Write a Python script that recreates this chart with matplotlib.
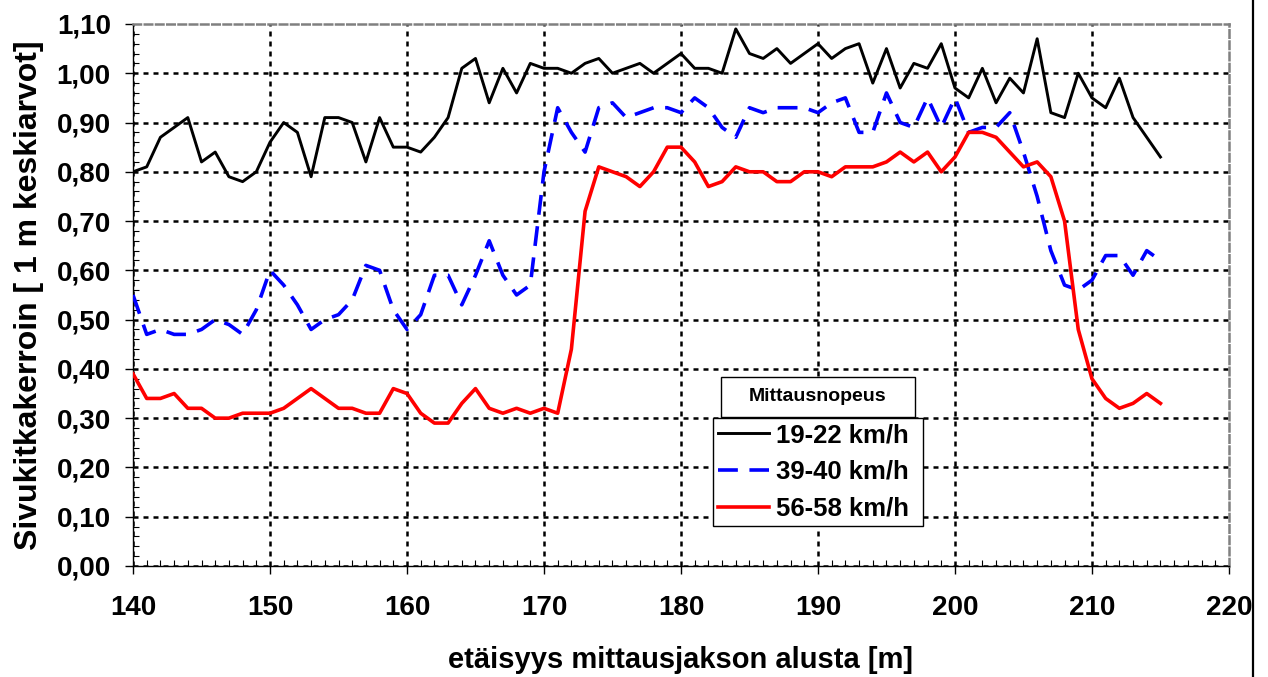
import matplotlib
matplotlib.use("Agg")
import matplotlib.pyplot as plt
from matplotlib.ticker import MultipleLocator, FuncFormatter
from matplotlib.patches import Rectangle
from matplotlib.lines import Line2D

plt.rcParams['font.family'] = ['Liberation Sans', 'DejaVu Sans']
plt.rcParams['font.weight'] = 'bold'

# etäisyys [m], 1 m välein
matka = [140, 141, 142, 143, 144, 145, 146, 147, 148, 149,
         150, 151, 152, 153, 154, 155, 156, 157, 158, 159,
         160, 161, 162, 163, 164, 165, 166, 167, 168, 169,
         170, 171, 172, 173, 174, 175, 176, 177, 178, 179,
         180, 181, 182, 183, 184, 185, 186, 187, 188, 189,
         190, 191, 192, 193, 194, 195, 196, 197, 198, 199,
         200, 201, 202, 203, 204, 205, 206, 207, 208, 209,
         210, 211, 212, 213, 214, 215]

# 19-22 km/h
v20 = [0.80, 0.81, 0.87, 0.89, 0.91, 0.82, 0.84, 0.79, 0.78, 0.80,
       0.86, 0.90, 0.88, 0.79, 0.91, 0.91, 0.90, 0.82, 0.91, 0.85,
       0.85, 0.84, 0.87, 0.91, 1.01, 1.03, 0.94, 1.01, 0.96, 1.02,
       1.01, 1.01, 1.00, 1.02, 1.03, 1.00, 1.01, 1.02, 1.00, 1.02,
       1.04, 1.01, 1.01, 1.00, 1.09, 1.04, 1.03, 1.05, 1.02, 1.04,
       1.06, 1.03, 1.05, 1.06, 0.98, 1.05, 0.97, 1.02, 1.01, 1.06,
       0.97, 0.95, 1.01, 0.94, 0.99, 0.96, 1.07, 0.92, 0.91, 1.00,
       0.95, 0.93, 0.99, 0.91, 0.87, 0.83]

# 39-40 km/h
v40 = [0.55, 0.47, 0.48, 0.47, 0.47, 0.48, 0.50, 0.49, 0.47, 0.52,
       0.60, 0.57, 0.53, 0.48, 0.50, 0.51, 0.54, 0.61, 0.60, 0.52,
       0.48, 0.51, 0.59, 0.59, 0.53, 0.59, 0.66, 0.59, 0.55, 0.57,
       0.80, 0.93, 0.88, 0.84, 0.93, 0.94, 0.91, 0.92, 0.93, 0.93,
       0.92, 0.95, 0.93, 0.89, 0.87, 0.93, 0.92, 0.93, 0.93, 0.93,
       0.92, 0.94, 0.95, 0.88, 0.88, 0.96, 0.90, 0.89, 0.95, 0.89,
       0.95, 0.88, 0.89, 0.89, 0.92, 0.84, 0.75, 0.64, 0.57, 0.56,
       0.58, 0.63, 0.63, 0.59, 0.64, 0.62]

# 56-58 km/h
v57 = [0.39, 0.34, 0.34, 0.35, 0.32, 0.32, 0.30, 0.30, 0.31, 0.31,
       0.31, 0.32, 0.34, 0.36, 0.34, 0.32, 0.32, 0.31, 0.31, 0.36,
       0.35, 0.31, 0.29, 0.29, 0.33, 0.36, 0.32, 0.31, 0.32, 0.31,
       0.32, 0.31, 0.44, 0.72, 0.81, 0.80, 0.79, 0.77, 0.80, 0.85,
       0.85, 0.82, 0.77, 0.78, 0.81, 0.80, 0.80, 0.78, 0.78, 0.80,
       0.80, 0.79, 0.81, 0.81, 0.81, 0.82, 0.84, 0.82, 0.84, 0.80,
       0.83, 0.88, 0.88, 0.87, 0.84, 0.81, 0.82, 0.79, 0.70, 0.48,
       0.38, 0.34, 0.32, 0.33, 0.35, 0.33]

nimet = ['19-22 km/h', '39-40 km/h', '56-58 km/h']

fig = plt.figure(figsize=(12.68, 6.77), dpi=100)
ax = fig.add_axes([0.1049, 0.164, 0.8643, 0.8006])

ax.plot(matka, v20, color='black', lw=2.1, label=nimet[0], zorder=4)
ax.plot(matka, v40, color='#0000ff', lw=2.6, linestyle=(0, (5.5, 3.2)), label=nimet[1], zorder=4)
ax.plot(matka, v57, color='#ff0000', lw=2.6, label=nimet[2], zorder=4)

ax.set_xlim(140, 220)
ax.set_ylim(0, 1.10)
ax.set_xticks([140, 150, 160, 170, 180, 190, 200, 210, 220])
ax.set_yticks([0.0, 0.1, 0.2, 0.3, 0.4, 0.5, 0.6, 0.7, 0.8, 0.9, 1.0, 1.1])
ax.xaxis.set_minor_locator(MultipleLocator(1))
ax.yaxis.set_minor_locator(MultipleLocator(0.02))
ax.yaxis.set_major_formatter(FuncFormatter(lambda v, p: ('%.2f' % v).replace('.', ',')))

ax.tick_params(which='major', direction='out', length=6, width=1, labelsize=20)
ax.tick_params(axis='y', which='major', pad=10)
ax.tick_params(axis='x', which='major', pad=15)
ax.tick_params(which='minor', direction='in', length=4, width=0.8)

# pisteviivaruudukko
ax.grid(True, which='major', color='black', linestyle=(0, (2, 2)), lw=1.8)
ax.set_axisbelow(True)
for t in ax.xaxis.get_major_ticks()[-1:]:
    t.gridline.set_visible(False)
for t in ax.yaxis.get_major_ticks()[-1:]:
    t.gridline.set_visible(False)

# kuva-alueen reunat
for s in ['top', 'right']:
    ax.spines[s].set_color('#808080')
    ax.spines[s].set_linestyle((0, (3, 1.5)))
    ax.spines[s].set_linewidth(1.8)
for s in ['left', 'bottom']:
    ax.spines[s].set_color('black')
    ax.spines[s].set_linewidth(1)

ax.set_xlabel('etäisyys mittausjakson alusta [m]', fontsize=21, fontweight='bold', labelpad=18)
ax.set_ylabel('Sivukitkakerroin [ 1 m keskiarvot]', fontsize=23, fontweight='bold', labelpad=9)

# selite ja sen otsikko omassa laatikossa
leg = ax.legend(loc='upper left', bbox_to_anchor=(0.529, 0.07, 0.192, 0.203), mode='expand',
                borderaxespad=0, fontsize=18.5, handlelength=2.0, handletextpad=0.25,
                labelspacing=0.5, borderpad=0.2, fancybox=False, framealpha=1,
                edgecolor='black')
leg.get_frame().set_linewidth(1)
leg.set_zorder(6)

ax.add_patch(Rectangle((0.5365, 0.275), 0.177, 0.074, transform=ax.transAxes,
                       facecolor='white', edgecolor='black', lw=1, zorder=6))
ax.text(0.625, 0.312, 'Mittausnopeus', transform=ax.transAxes, fontsize=14,
        fontweight='bold', ha='center', va='center', zorder=7)

# kaavioalueen oikea reuna
fig.add_artist(Line2D([0.9878, 0.9878], [0, 1], transform=fig.transFigure, color='black', lw=1.6))

plt.savefig('out.png', dpi=100)
